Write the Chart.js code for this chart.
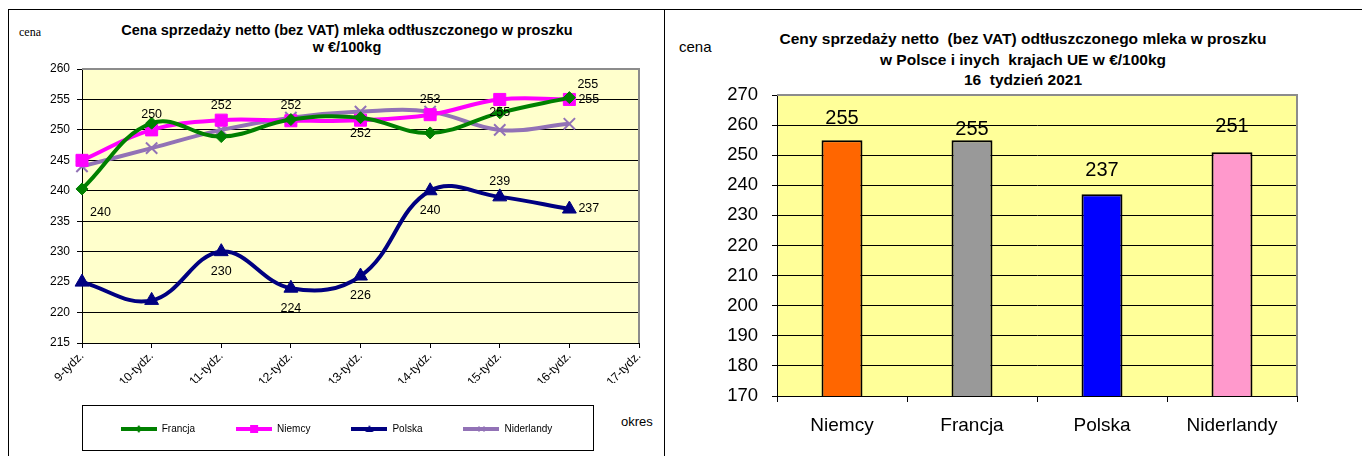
<!DOCTYPE html>
<html>
<head>
<meta charset="utf-8">
<script src="https://cdn.jsdelivr.net/npm/chart.js@4/dist/chart.umd.min.js"></script>
<style>
  body { margin: 0; background: #fff; width: 1362px; height: 456px; position: relative; overflow: hidden;
         font-family: "Liberation Sans", Arial, sans-serif; }
  .line { position: absolute; background: #000; }
  .txt { position: absolute; color: #000; white-space: nowrap; }
  .box { position: absolute; }
</style>
</head>
<body>
<div class="line" style="left:8px;top:9px;width:1354px;height:1px"></div>
<div class="line" style="left:8px;top:9px;width:1px;height:447px"></div>
<div class="line" style="left:664px;top:9px;width:1px;height:447px"></div>

<div class="txt" style="left:19px;top:25px;font:12px 'Liberation Serif',serif">cena</div>
<div class="txt" style="left:0;width:694px;top:22px;text-align:center;font-weight:bold;font-size:14.5px;line-height:17px">
  Cena sprzedaży netto (bez VAT) mleka odtłuszczonego w proszku<br>w €/100kg</div>
<div class="txt" style="left:621px;top:413px;font-size:13px;line-height:18px">okres</div>

<div class="txt" style="left:679px;top:36px;font-size:15px;line-height:22px">cena</div>
<div class="txt" style="left:723px;width:600px;top:29px;text-align:center;font-weight:bold;font-size:15.5px;line-height:20.5px">
  Ceny sprzedaży netto&nbsp; (bez VAT) odtłuszczonego mleka w proszku<br>w Polsce i inych&nbsp; krajach UE w €/100kg<br>16&nbsp; tydzień 2021</div>

<div class="box" style="left:9px;top:10px;width:655px;height:446px"><canvas id="lineChart"></canvas></div>
<div class="box" style="left:666px;top:10px;width:696px;height:446px"><canvas id="barChart"></canvas></div>

<script>
// weekly prices, €/100kg
const weeks = ["9-tydz.", "10-tydz.", "11-tydz.", "12-tydz.", "13-tydz.", "14-tydz.", "15-tydz.", "16-tydz.", "17-tydz."];
const francja = [240.3, 251.1, 248.9, 251.7, 252, 249.5, 252.8, 255.3];
const niemcy = [245, 250, 251.6, 251.5, 251.6, 252.5, 255, 255];
const polska = [225, 222, 230, 224, 226, 240, 239, 237];
const niderlandy = [244, 247, 250, 252, 253, 253, 250, 251];
const lineAxis = [215, 260, 5]; // min, max, step

// week 16 comparison
const countries = ["Niemcy", "Francja", "Polska", "Niderlandy"];
const week16 = [255, 255, 237, 251];
const barAxis = [170, 270, 10];

const family = '"Liberation Sans", Arial, sans-serif';
Chart.defaults.font.family = family;
Chart.defaults.color = "#000";
Chart.defaults.animation = false;

// plot background + grey top/right edge
const plotFrame = {
  id: "plotFrame",
  beforeDraw(chart, args, opts) {
    const { left, top, right, bottom } = chart.chartArea;
    const ctx = chart.ctx;
    ctx.save();
    ctx.fillStyle = opts.fill;
    ctx.fillRect(left, top, right - left, bottom - top);
    ctx.restore();
  },
  afterDraw(chart) {
    const { left, top, right, bottom } = chart.chartArea;
    const ctx = chart.ctx;
    ctx.save();
    ctx.strokeStyle = "#8c8c8c";
    ctx.lineWidth = 2;
    ctx.beginPath();
    ctx.moveTo(left, top);
    ctx.lineTo(right, top);
    ctx.lineTo(right, bottom);
    ctx.stroke();
    ctx.restore();
  }
};

// value labels next to line points
const labelOffsets = {
  above: [0, -15], below: [0, 20], belowNear: [0, 13],
  right: [9, 0], aboveRight: [8, -13], belowRight: [8, 24]
};
const pointLabels = {
  id: "pointLabels",
  afterDatasetsDraw(chart) {
    const ctx = chart.ctx;
    ctx.save();
    ctx.font = "12.5px " + family;
    ctx.fillStyle = "#000";
    ctx.textBaseline = "middle";
    chart.data.datasets.forEach((ds, i) => {
      if (!ds.labelPos) return;
      chart.getDatasetMeta(i).data.forEach((pt, j) => {
        const pos = ds.labelPos[j];
        if (!pos) return;
        const off = labelOffsets[pos];
        ctx.textAlign = pos.indexOf("ight") > 0 ? "left" : "center";
        ctx.fillText(Math.round(ds.data[j]), pt.x + off[0], pt.y + off[1]);
      });
    });
    ctx.restore();
  }
};

// frame round the legend
const legendBox = {
  id: "legendBox",
  afterDraw(chart) {
    const hb = chart.legend.legendHitBoxes;
    if (!hb || !hb.length) return;
    const x1 = 73, x2 = 584;
    const cy = hb[0].top + hb[0].height / 2;
    const ctx = chart.ctx;
    ctx.save();
    ctx.strokeStyle = "#000";
    ctx.lineWidth = 1;
    ctx.strokeRect(x1 + 0.5, Math.round(cy - 24) + 0.5, x2 - x1, 45);
    ctx.restore();
  }
};

function legendSample(color, shape) {
  const c = document.createElement("canvas");
  c.width = 36; c.height = 10;
  const g = c.getContext("2d");
  g.strokeStyle = color; g.fillStyle = color;
  g.lineWidth = 4;
  g.beginPath(); g.moveTo(0, 5); g.lineTo(36, 5); g.stroke();
  g.lineWidth = 1;
  if (shape === "rect") g.fillRect(14, 1, 8, 8);
  else if (shape === "triangle") { g.beginPath(); g.moveTo(18, 1); g.lineTo(22, 8); g.lineTo(14, 8); g.fill(); }
  else if (shape === "rectRot") { g.beginPath(); g.moveTo(18, 1); g.lineTo(21, 5); g.lineTo(18, 9); g.lineTo(15, 5); g.fill(); }
  else { g.beginPath(); g.moveTo(15, 2); g.lineTo(21, 8); g.moveTo(21, 2); g.lineTo(15, 8); g.stroke(); }
  return c;
}

const lineSets = [
  { label: "Francja", data: francja, color: "#008000", shape: "rectRot", r: 6,
    labelPos: ["belowRight", null, null, null, null, null, null, "aboveRight"] },
  { label: "Niemcy", data: niemcy, color: "#ff00ff", shape: "rect", r: 8.5,
    labelPos: [null, "above", "above", "above", "belowNear", "above", "belowNear", "right"] },
  { label: "Polska", data: polska, color: "#000080", shape: "triangle", r: 8,
    labelPos: [null, null, "below", "below", "below", "below", "above", "right"] },
  { label: "Niderlandy", data: niderlandy, color: "#9272b6", shape: "crossRot", r: 8,
    labelPos: null }
];

new Chart(document.getElementById("lineChart"), {
  type: "line",
  data: {
    labels: weeks,
    datasets: lineSets.map(s => ({
      label: s.label,
      data: s.data,
      borderColor: s.color,
      backgroundColor: s.color,
      pointBackgroundColor: s.color,
      pointBorderColor: s.color,
      pointStyle: s.shape,
      pointRadius: s.r,
      pointBorderWidth: s.shape === "crossRot" ? 2 : 1,
      borderWidth: 4,
      tension: 0.4,
      labelPos: s.labelPos,
      sample: legendSample(s.color, s.shape)
    }))
  },
  options: {
    responsive: true,
    maintainAspectRatio: false,
    layout: { padding: { top: 59, right: 0, bottom: 12, left: 0 } },
    plugins: {
      plotFrame: { fill: "#ffffcc" },
      tooltip: { enabled: false },
      legend: {
        position: "bottom",
        labels: {
          usePointStyle: true,
          pointStyleWidth: 36,
          padding: 41,
          font: { size: 10 },
          generateLabels(chart) {
            return chart.data.datasets.map((ds, i) => ({
              text: ds.label, pointStyle: ds.sample, fillStyle: ds.borderColor,
              strokeStyle: ds.borderColor, lineWidth: 0, hidden: false, datasetIndex: i
            }));
          }
        }
      }
    },
    scales: {
      x: {
        offset: false,
        grid: { drawOnChartArea: false, drawTicks: true, tickLength: 5, color: "#000" },
        border: { color: "#000" },
        ticks: { font: { size: 12 }, minRotation: 45, maxRotation: 45, autoSkip: false, padding: 1 },
        afterFit(s) { s.height = 40; }
      },
      y: {
        min: lineAxis[0], max: lineAxis[1],
        ticks: { stepSize: lineAxis[2], font: { size: 12 }, padding: 7 },
        grid: { color: "#000", tickLength: 5 },
        border: { color: "#000" },
        afterFit(s) { s.width = 73; }
      },
      pad: {
        position: "right",
        grid: { display: false }, border: { display: false }, ticks: { display: false },
        afterFit(s) { s.width = 25; }
      }
    }
  },
  plugins: [plotFrame, pointLabels, legendBox]
});

// labels over bars
const barLabels = {
  id: "barLabels",
  afterDatasetsDraw(chart, args, opts) {
    const ctx = chart.ctx;
    ctx.save();
    ctx.font = "20px " + family;
    ctx.fillStyle = "#000";
    ctx.textAlign = "center";
    ctx.textBaseline = "middle";
    chart.getDatasetMeta(0).data.forEach((bar, i) => {
      ctx.fillText(chart.data.datasets[0].data[i], bar.x, bar.y - opts.lift[i]);
    });
    ctx.restore();
  }
};

new Chart(document.getElementById("barChart"), {
  type: "bar",
  data: {
    labels: countries,
    datasets: [{
      data: week16,
      backgroundColor: ["#ff6600", "#999999", "#0000ff", "#ff99cc"],
      borderColor: "#000",
      borderWidth: 2,
      borderSkipped: false,
      categoryPercentage: 1,
      barPercentage: 0.315
    }]
  },
  options: {
    responsive: true,
    maintainAspectRatio: false,
    layout: { padding: { top: 85, right: 65, bottom: 0, left: 0 } },
    plugins: {
      plotFrame: { fill: "#ffff99" },
      barLabels: { lift: [22, 11, 24, 26] },
      legend: { display: false },
      tooltip: { enabled: false }
    },
    scales: {
      x: {
        grid: { offset: true, drawOnChartArea: false, drawTicks: true, tickLength: 6, color: "#000" },
        border: { color: "#000" },
        ticks: { font: { size: 19 }, padding: 12 },
        afterFit(s) { s.height = 60; }
      },
      y: {
        min: barAxis[0], max: barAxis[1],
        ticks: { stepSize: barAxis[2], font: { size: 18.5 }, padding: 14 },
        grid: { color: "#000", tickLength: 5 },
        border: { color: "#000" },
        afterFit(s) { s.width = 111; }
      }
    }
  },
  plugins: [plotFrame, barLabels]
});
</script>
</body>
</html>
